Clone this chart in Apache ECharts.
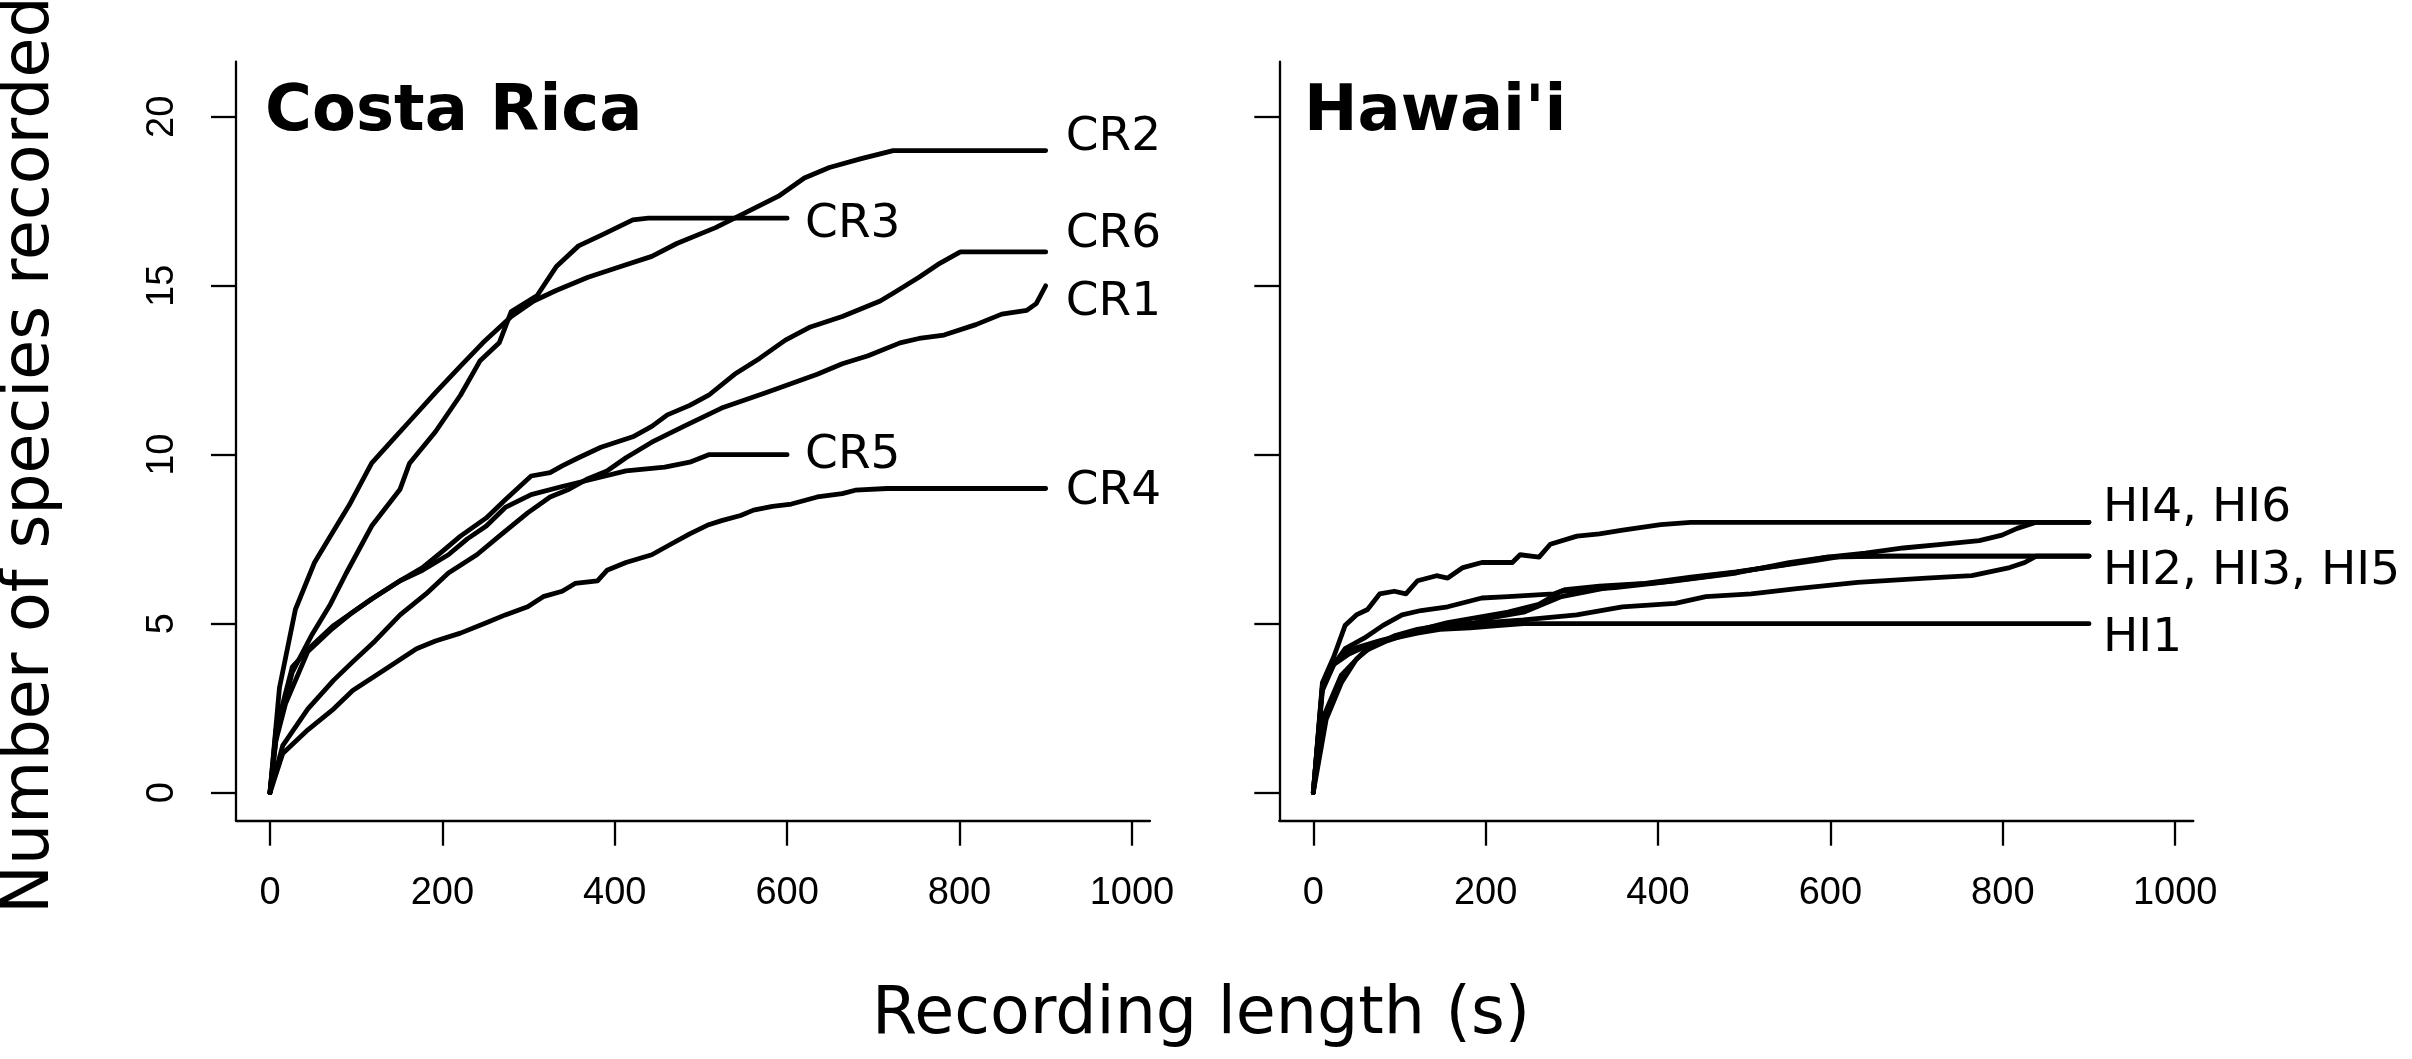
<!DOCTYPE html>
<html>
<head>
<meta charset="utf-8">
<script src="https://cdn.jsdelivr.net/npm/echarts@6/dist/echarts.min.js"></script>
<style>
  html, body { margin: 0; padding: 0; background: #fff; }
  #chart { width: 2412px; height: 1059px; }
</style>
</head>
<body>
<div id="chart"></div>
<script>
// species accumulation curves, [recording length (s), species]
const cr1 = [[0,0],[14.8,1.39],[44,2.48],[74,3.33],[96,3.87],[122,4.49],[151,5.26],[181,5.88],[207,6.5],[240,7.04],[266,7.59],[299,8.28],[325,8.75],[347,8.98],[369,9.29],[391,9.52],[413,9.91],[443,10.37],[480,10.84],[524,11.38],[576,11.84],[635,12.38],[664,12.69],[694,12.93],[731,13.31],[753,13.44],[782,13.54],[819,13.85],[849,14.16],[878,14.27],[889,14.47],[900,15]]
const cr2 = [[0,0],[11,3.1],[29.5,5.42],[51.7,6.81],[70,7.59],[92,8.51],[118,9.75],[140,10.37],[162,10.99],[192,11.84],[221,12.62],[247,13.31],[280,14.09],[306,14.55],[332,14.86],[369,15.25],[406,15.56],[443,15.87],[472,16.25],[517,16.72],[553,17.18],[590,17.65],[620,18.19],[649,18.5],[686,18.76],[723,19],[900,19]]
const cr3 = [[0,0],[7.4,1.7],[25.8,3.56],[48,4.64],[70,5.57],[88.6,6.5],[118,7.89],[151,8.98],[162,9.75],[192,10.68],[221,11.76],[243.5,12.77],[266,13.31],[280,14.24],[310,14.71],[332,15.56],[358,16.18],[384,16.49],[421,16.95],[439,17],[600,17]]
const cr4 = [[0,0],[14.8,1.16],[44,1.86],[74,2.48],[96,3.02],[133,3.64],[170,4.26],[192,4.49],[221,4.72],[251,5.03],[273,5.26],[299,5.5],[317,5.8],[339,5.96],[354,6.19],[380,6.27],[391,6.58],[413,6.81],[443,7.04],[465,7.35],[487,7.66],[509,7.93],[524,8.05],[546,8.2],[561,8.36],[583,8.47],[605,8.54],[635,8.75],[664,8.85],[679,8.95],[716,9],[900,9]]
const cr5 = [[0,0],[7,1.86],[26,3.72],[48,4.33],[74,4.95],[96,5.34],[118,5.73],[151,6.27],[177,6.58],[207,7.04],[229,7.51],[251,7.89],[273,8.44],[303,8.82],[339,9.06],[376,9.29],[413,9.52],[458,9.63],[487,9.78],[509,10],[600,10]]
const cr6 = [[0,0],[7,1.55],[18,2.63],[44,4.18],[70,4.8],[96,5.34],[118,5.73],[151,6.27],[177,6.66],[199,7.12],[221,7.59],[251,8.13],[273,8.67],[303,9.37],[325,9.47],[339,9.67],[358,9.91],[384,10.22],[421,10.53],[443,10.84],[461,11.18],[487,11.46],[509,11.76],[539,12.38],[568,12.85],[598,13.39],[627,13.78],[664,14.09],[686,14.32],[708,14.55],[723,14.78],[753,15.25],[775,15.63],[801,16],[900,16]]

const hi1 = [[0,0],[10.6,3.02],[23.8,3.79],[41.4,4.1],[67.8,4.41],[94,4.57],[120.7,4.72],[147,4.83],[182,4.88],[217.6,4.95],[244,5],[900,5]]
const hi2 = [[0,0],[10.6,2.17],[32.6,3.48],[59,4.18],[85.5,4.49],[120.7,4.8],[156,5.03],[191,5.19],[226,5.34],[261.7,5.57],[288,5.96],[350,6.07],[420,6.27],[490.7,6.5],[552,6.81],[596.5,6.97],[667,7],[900,7]]
const hi3 = [[0,0],[10.6,3.17],[23.8,3.87],[45.8,4.26],[76.7,4.49],[112,4.72],[147,4.88],[182,4.98],[209,5.19],[244,5.34],[288,5.8],[350,6.11],[402.6,6.22],[464,6.42],[526,6.66],[587.7,6.89],[614,7],[900,7]]
const hi4 = [[0,0],[10.6,3.25],[23.8,4.02],[37,4.95],[50,5.26],[63,5.42],[77,5.88],[94,5.96],[107.5,5.88],[121,6.27],[143,6.42],[156,6.35],[173.6,6.66],[195.6,6.81],[231,6.81],[240,7.04],[262,6.97],[275,7.35],[306,7.59],[332,7.66],[359,7.77],[403,7.93],[438,8],[464,8],[900,8]]
const hi5 = [[0,0],[15,2.17],[32.6,3.25],[50,3.95],[67.8,4.33],[94,4.64],[120.7,4.83],[156,4.98],[200,5.03],[244,5.11],[305.7,5.26],[358.6,5.5],[420,5.6],[455.5,5.8],[508,5.88],[561,6.04],[631.7,6.22],[711,6.35],[764,6.42],[808,6.66],[825.5,6.81],[838.8,7],[900,7]]
const hi6 = [[0,0],[10.6,3.1],[23.8,3.79],[37,4.26],[59,4.57],[81,4.95],[103,5.26],[125,5.39],[156,5.5],[195.6,5.76],[226,5.8],[279,5.88],[292.5,6.01],[332,6.11],[385,6.19],[438,6.38],[491,6.53],[544,6.73],[596.5,6.97],[640.5,7.09],[684.6,7.24],[728.6,7.35],[772.7,7.46],[799,7.62],[816.7,7.82],[838.8,8],[900,8]]

const xTicks = [0, 200, 400, 600, 800, 1000]
const yTicks = [0, 5, 10, 15, 20]
const panelTitles = ['Costa Rica', "Hawai'i"]
const xTitle = 'Recording length (s)'
const yTitle = 'Number of species recorded'

const black = '#000'
const txt = 'DejaVu Sans'

// R-style panels: axis range padded 4% beyond the data range, L-shaped box
const panel = (left) => ({ left: left, width: 914, top: 61.7, height: 759 })

const axisX = (i) => ({
  type: 'value', gridIndex: i, min: -39.4, max: 1021,
  axisLine: { show: true, onZero: false, lineStyle: { color: black, width: 2.3 } },
  axisTick: { show: true, inside: false, length: 25, customValues: xTicks, lineStyle: { color: black, width: 2.3 } },
  axisLabel: { show: true, customValues: xTicks, margin: 54, fontFamily: 'Liberation Sans', fontSize: 38, color: black, formatter: (v) => String(v) },
  splitLine: { show: false }
})
const axisY = (i, labels) => ({
  type: 'value', gridIndex: i, min: -0.83, max: 21.63,
  axisLine: { show: true, onZero: false, lineStyle: { color: black, width: 2.3 } },
  axisTick: { show: true, inside: false, length: 25, customValues: yTicks, lineStyle: { color: black, width: 2.3 } },
  axisLabel: { show: labels, customValues: yTicks, rotate: 90, margin: 54, fontFamily: 'Liberation Sans', fontSize: 38, color: black, formatter: (v) => String(v) },
  splitLine: { show: false }
})

const curve = (data, p, label, dist, dy) => ({
  type: 'line', data: data, xAxisIndex: p, yAxisIndex: p,
  symbol: 'none', silent: true,
  lineStyle: { color: black, width: 4.8, cap: 'round', join: 'round' },
  endLabel: label ? {
    show: true, formatter: label, distance: dist, offset: [0, dy],
    fontFamily: txt, fontSize: 47, color: black
  } : { show: false }
})

const chart = echarts.init(document.getElementById('chart'))
chart.setOption({
  animation: false,
  backgroundColor: '#fff',
  title: [
    { text: panelTitles[0], left: 265, top: 81, padding: 0,
      textStyle: { fontFamily: txt, fontWeight: 'bold', fontSize: 64, color: black } },
    { text: panelTitles[1], left: 1304, top: 81, padding: 0,
      textStyle: { fontFamily: txt, fontWeight: 'bold', fontSize: 64, color: black } },
    { text: xTitle, left: 872, top: 984, padding: 0,
      textStyle: { fontFamily: txt, fontWeight: 'normal', fontSize: 65, color: black } }
  ],
  graphic: [{
    type: 'text', x: 31, y: 455, rotation: Math.PI / 2,
    style: { text: yTitle, fontFamily: txt, fontSize: 65, fill: black, align: 'center', verticalAlign: 'middle' }
  }],
  grid: [panel(236), panel(1279.3)],
  xAxis: [axisX(0), axisX(1)],
  yAxis: [axisY(0, true), axisY(1, false)],
  series: [
    curve(cr1, 0, 'CR1', 20, 17),
    curve(cr2, 0, 'CR2', 20, -13),
    curve(cr3, 0, 'CR3', 18, 7),
    curve(cr4, 0, 'CR4', 20, 3),
    curve(cr5, 0, 'CR5', 18, 1),
    curve(cr6, 0, 'CR6', 20, -17),
    curve(hi1, 1, 'HI1', 14, 15),
    curve(hi2, 1, 'HI2, HI3, HI5', 14, 16),
    curve(hi3, 1, null),
    curve(hi4, 1, 'HI4, HI6', 14, -14),
    curve(hi5, 1, null),
    curve(hi6, 1, null)
  ]
})
window.addEventListener('resize', () => {
  chart.resize()
})
</script>
</body>
</html>
